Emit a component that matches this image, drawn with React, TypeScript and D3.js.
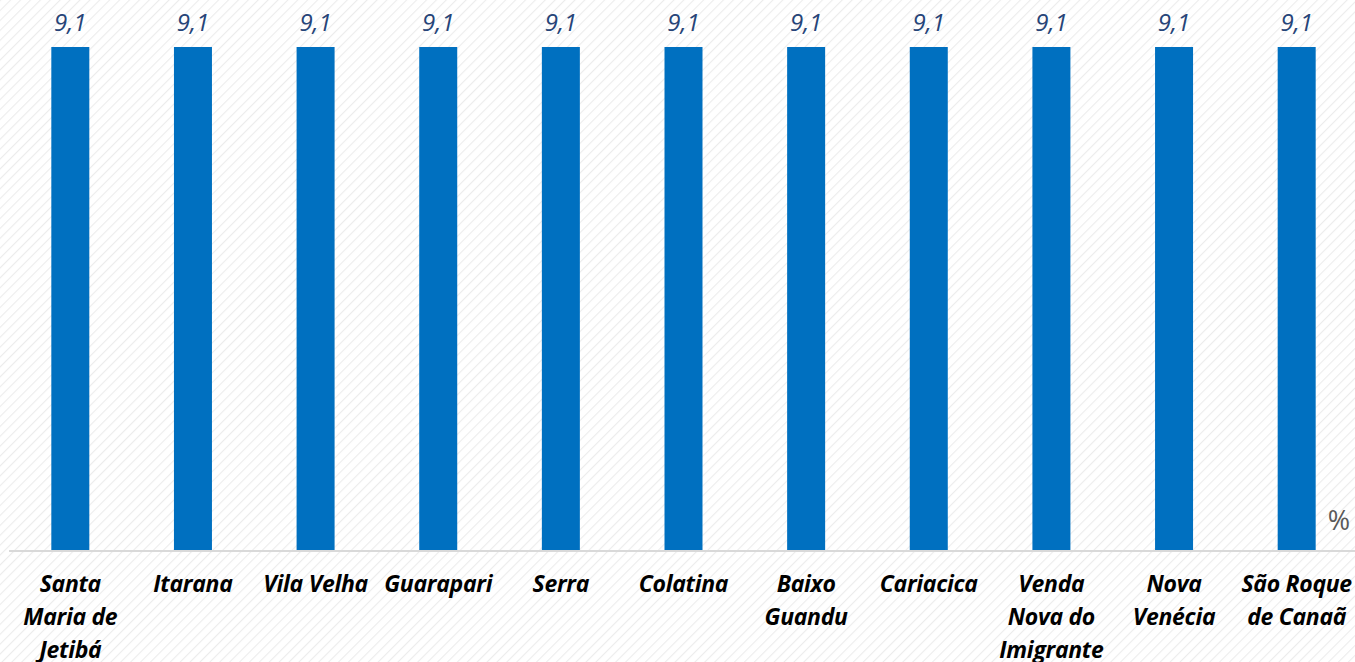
import React from "react";
import * as d3 from "d3";

const categories = [
  "Santa\nMaria de\nJetibá",
  "Itarana",
  "Vila Velha",
  "Guarapari",
  "Serra",
  "Colatina",
  "Baixo\nGuandu",
  "Cariacica",
  "Venda\nNova do\nImigrante",
  "Nova\nVenécia",
  "São Roque\nde Canaã",
];
const values = [9.1, 9.1, 9.1, 9.1, 9.1, 9.1, 9.1, 9.1, 9.1, 9.1, 9.1];
const unitLabel = "%";

const W = 1355;
const H = 662;
const FONT = "'Open Sans', Lato, sans-serif";

export default function App() {
  React.useEffect(() => {
    document.body.style.margin = "0";
  }, []);

  const x = d3.scaleBand<number>().domain(d3.range(categories.length)).range([9, 1358]).paddingInner(0.69).paddingOuter(0.345);
  const y = d3.scaleLinear().domain([0, 10]).range([550, -2.75]);
  const bw = 38;

  return (
    <svg width={W} height={H} style={{ display: "block", position: "absolute", left: 0, top: 0 }}>
      <defs>
        <pattern id="hatch" width="7" height="7" patternUnits="userSpaceOnUse" patternTransform="rotate(45)">
          <rect width="7" height="7" fill="#ffffff" />
          <line x1="0" y1="0" x2="0" y2="7" stroke="#ececec" strokeWidth="2.2" />
        </pattern>
      </defs>
      <rect x={0} y={0} width={W} height={H} fill="url(#hatch)" />
      {values.map((v, i) => {
        const cx = (x(i) as number) + x.bandwidth() / 2;
        return (
          <g key={i}>
            <rect x={cx - bw / 2} y={y(v)} width={bw} height={y(0) - y(v)} fill="#0070C0" />
            <text
              x={cx}
              y={y(v) - 16}
              textAnchor="middle"
              fontFamily={FONT}
              fontStyle="italic"
              fontSize={24}
              fill="#264478"
            >
              {d3.format(".1f")(v).replace(".", ",")}
            </text>
          </g>
        );
      })}
      <line x1={9} x2={1358} y1={y(0) + 1} y2={y(0) + 1} stroke="#d9d9d9" strokeWidth={2} />
      {categories.map((c, i) => {
        const cx = (x(i) as number) + x.bandwidth() / 2;
        const lines = c.split("\n");
        return (
          <text
            key={i}
            textAnchor="middle"
            fontFamily={FONT}
            fontStyle="italic"
            fontWeight="bold"
            fontSize={23}
            letterSpacing={-0.3}
            fill="#000000"
          >
            {lines.map((l, j) => (
              <tspan key={j} x={cx} y={592 + j * 33}>
                {l}
              </tspan>
            ))}
          </text>
        );
      })}
      <text x={1339} y={530} textAnchor="middle" fontFamily={FONT} fontSize={27} fill="#595959">
        {unitLabel}
      </text>
    </svg>
  );
}
